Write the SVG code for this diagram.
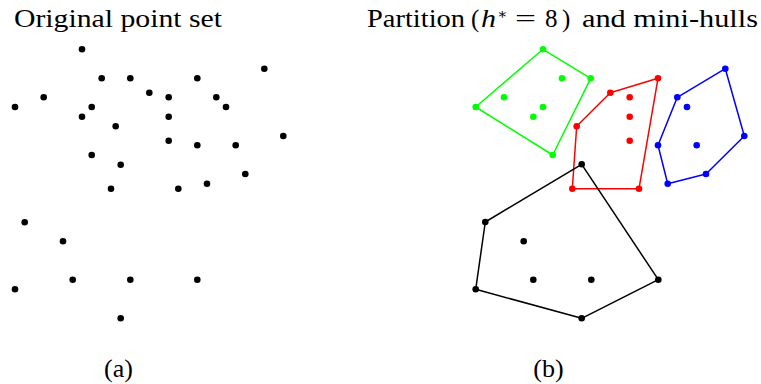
<svg xmlns="http://www.w3.org/2000/svg" width="761" height="384" viewBox="0 0 761 384">
<style>
text{font-family:"Liberation Serif","DejaVu Serif",serif;fill:#000}
.t{font-size:25px}
.lab{font-size:26px}
.k{fill:#000}
.g{fill:#00ff00}
.r{fill:#ff0000}
.b{fill:#0000ff}
.hull{fill:none;stroke-width:1.5;stroke-linejoin:round}
</style>
<rect width="761" height="384" fill="#fff"/>
<g id="title-a"><text class="t" x="14" y="27" textLength="208" lengthAdjust="spacingAndGlyphs">Original point set</text></g>
<g id="title-b"><text class="t" y="27"><tspan x="367" textLength="98" lengthAdjust="spacingAndGlyphs">Partition</tspan><tspan x="471">(</tspan><tspan x="481" font-style="italic" textLength="15" lengthAdjust="spacingAndGlyphs">h</tspan><tspan x="497" y="19" font-size="15">∗</tspan><tspan x="515" y="27" textLength="21" lengthAdjust="spacingAndGlyphs">=</tspan><tspan x="545">8</tspan><tspan x="562">)</tspan><tspan x="582" textLength="176" lengthAdjust="spacingAndGlyphs">and mini-hulls</tspan></text></g>
<g id="points-a" class="k">
<circle cx="82" cy="49.3" r="3.3"/><circle cx="264.3" cy="68.7" r="3.3"/><circle cx="101.7" cy="78.3" r="3.3"/><circle cx="130.3" cy="78.3" r="3.3"/><circle cx="197.3" cy="78.3" r="3.3"/><circle cx="149.3" cy="92.7" r="3.3"/><circle cx="43.7" cy="97.3" r="3.3"/><circle cx="168.7" cy="97.3" r="3.3"/><circle cx="216.3" cy="97.3" r="3.3"/><circle cx="15" cy="107" r="3.3"/><circle cx="91.7" cy="107" r="3.3"/><circle cx="226" cy="107" r="3.3"/><circle cx="82" cy="116.7" r="3.3"/><circle cx="168.7" cy="116.7" r="3.3"/><circle cx="115.7" cy="126.3" r="3.3"/><circle cx="283.3" cy="136" r="3.3"/><circle cx="168.7" cy="140.7" r="3.3"/><circle cx="197.3" cy="145.3" r="3.3"/><circle cx="235.7" cy="145.3" r="3.3"/><circle cx="91.7" cy="155" r="3.3"/><circle cx="120.7" cy="164.7" r="3.3"/><circle cx="245.3" cy="174" r="3.3"/><circle cx="207" cy="183.7" r="3.3"/><circle cx="111" cy="188.7" r="3.3"/><circle cx="178.3" cy="188.7" r="3.3"/><circle cx="24.7" cy="222.3" r="3.3"/><circle cx="63" cy="241.3" r="3.3"/><circle cx="72.7" cy="279.7" r="3.3"/><circle cx="130.3" cy="279.7" r="3.3"/><circle cx="197.3" cy="279.7" r="3.3"/><circle cx="15" cy="289.3" r="3.3"/><circle cx="120.7" cy="318.3" r="3.3"/>
</g>
<g id="hull-green">
<polygon class="hull" stroke="#00ff00" points="543,49.3 590.7,78.3 552.7,155 475.7,107"/>
<g class="g"><circle cx="543" cy="49.3" r="3.3"/><circle cx="590.7" cy="78.3" r="3.3"/><circle cx="552.7" cy="155" r="3.3"/><circle cx="475.7" cy="107" r="3.3"/><circle cx="562" cy="78.3" r="3.3"/><circle cx="504" cy="97.3" r="3.3"/><circle cx="543" cy="107" r="3.3"/><circle cx="533.3" cy="116.7" r="3.3"/></g>
</g>
<g id="hull-red">
<polygon class="hull" stroke="#ff0000" points="610.3,92.7 658,78.3 639,188.7 572.3,188.7 576.7,126.3"/>
<g class="r"><circle cx="610.3" cy="92.7" r="3.3"/><circle cx="658" cy="78.3" r="3.3"/><circle cx="639" cy="188.7" r="3.3"/><circle cx="572.3" cy="188.7" r="3.3"/><circle cx="576.7" cy="126.3" r="3.3"/><circle cx="629.7" cy="97.3" r="3.3"/><circle cx="629.7" cy="116.7" r="3.3"/><circle cx="629.7" cy="140.7" r="3.3"/></g>
</g>
<g id="hull-blue">
<polygon class="hull" stroke="#0000ff" points="677.3,97.3 725.3,68.7 744.3,136 706,174 667.7,183.7 658,145.3"/>
<g class="b"><circle cx="677.3" cy="97.3" r="3.3"/><circle cx="725.3" cy="68.7" r="3.3"/><circle cx="744.3" cy="136" r="3.3"/><circle cx="706" cy="174" r="3.3"/><circle cx="667.7" cy="183.7" r="3.3"/><circle cx="658" cy="145.3" r="3.3"/><circle cx="687" cy="107" r="3.3"/><circle cx="696.7" cy="145.3" r="3.3"/></g>
</g>
<g id="hull-black">
<polygon class="hull" stroke="#000" points="581.7,164.3 658.3,279.7 581.7,318.3 475.7,289.3 485.3,222"/>
<g class="k"><circle cx="581.7" cy="164.3" r="3.3"/><circle cx="658.3" cy="279.7" r="3.3"/><circle cx="581.7" cy="318.3" r="3.3"/><circle cx="475.7" cy="289.3" r="3.3"/><circle cx="485.3" cy="222" r="3.3"/><circle cx="523.7" cy="241.3" r="3.3"/><circle cx="533.3" cy="279.7" r="3.3"/><circle cx="591.3" cy="279.7" r="3.3"/></g>
</g>
<g id="label-a"><text class="lab" x="118.5" y="377" text-anchor="middle">(a)</text></g>
<g id="label-b"><text class="lab" x="548.5" y="377" text-anchor="middle">(b)</text></g>
</svg>
